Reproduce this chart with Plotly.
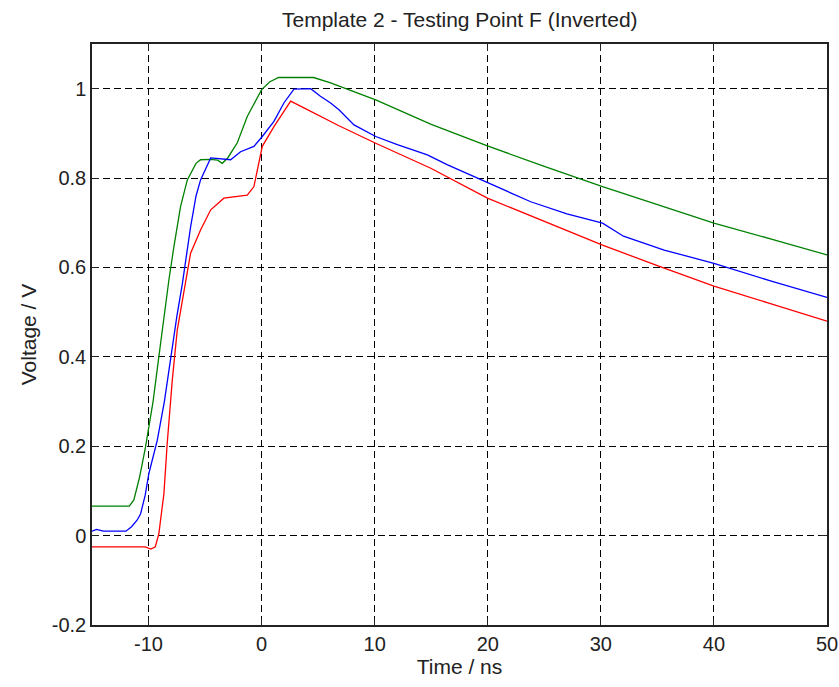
import plotly.graph_objects as go

# Data
green_x = [-15, -11.7, -11.3, -10.8, -10.27, -9.6, -9.09, -8.6, -8.2, -7.76, -7.17, -6.57, -6.28, -5.8, -5.4,
           -4.5, -3.9, -3.48, -3.0, -2.15, -1.27, -0.5, 0, 0.7, 1.5, 4.6, 6.1, 10.09, 15, 19.97, 25, 30.15,
           35, 40, 45, 50]
green_y = [0.066, 0.066, 0.08, 0.13, 0.198, 0.30, 0.40, 0.50, 0.572, 0.646, 0.736, 0.796, 0.811, 0.833, 0.841,
           0.842, 0.84, 0.833, 0.845, 0.879, 0.938, 0.975, 0.998, 1.015, 1.025, 1.025, 1.013, 0.975, 0.92, 0.872,
           0.826, 0.781, 0.74, 0.699, 0.664, 0.628]

blue_x = [-15, -14.6, -14, -12, -11.5, -11.0, -10.7, -10.3, -9.97, -9.23, -8.6, -8.05, -7.5, -7.0, -6.28, -5.8,
          -5.4, -4.5, -2.74, -1.86, -0.68, 0.06, 1.09, 1.97, 2.86, 4.34, 5.2, 6.1, 6.84, 8.17, 10.09, 12, 14.66,
          16.4, 19.97, 23.8, 27, 30.15, 32, 35.6, 40, 45, 50]
blue_y = [0.01, 0.014, 0.01, 0.01, 0.02, 0.035, 0.049, 0.09, 0.139, 0.213, 0.30, 0.40, 0.49, 0.565, 0.691, 0.76,
          0.796, 0.845, 0.841, 0.859, 0.871, 0.893, 0.927, 0.968, 0.999, 1.0, 0.983, 0.968, 0.953, 0.919, 0.893,
          0.875, 0.852, 0.83, 0.79, 0.747, 0.72, 0.699, 0.67, 0.639, 0.609, 0.57, 0.533]

red_x = [-15, -10.3, -9.8, -9.4, -9.09, -8.64, -8.35, -7.9, -7.46, -6.73, -6.28, -5.4, -4.5, -3.34, -1.27, -0.68,
         -0.38, 0.06, 1.09, 2.57, 3.74, 5.51, 6.84, 10.09, 14.96, 19.97, 25, 30.15, 35, 40, 45, 50]
red_y = [-0.025, -0.025, -0.03, -0.025, 0.004, 0.094, 0.206, 0.348, 0.46, 0.572, 0.632, 0.684, 0.729, 0.755,
         0.762, 0.781, 0.818, 0.871, 0.915, 0.972, 0.957, 0.934, 0.917, 0.878, 0.822, 0.755, 0.703, 0.650, 0.604,
         0.558, 0.519, 0.48]

x_ticks = [-10, 0, 10, 20, 30, 40, 50]
x_labels = ["-10", "0", "10", "20", "30", "40", "50"]
y_ticks = [-0.2, 0, 0.2, 0.4, 0.6, 0.8, 1]
y_labels = ["-0.2", "0", "0.2", "0.4", "0.6", "0.8", "1"]

fig = go.Figure()
for xs, ys, col in [(green_x, green_y, "#008000"), (blue_x, blue_y, "#0000FF"), (red_x, red_y, "#FF0000")]:
    fig.add_trace(go.Scatter(x=xs, y=ys, mode="lines", line=dict(color=col, width=1.3), showlegend=False))

font = "Liberation Sans, Arial, sans-serif"
axis_common = dict(
    showgrid=True, gridcolor="black", gridwidth=1, griddash="7px,4px",
    showline=True, linecolor="#222", linewidth=1.5, mirror="allticks",
    ticks="inside", ticklen=7, tickcolor="#222", zeroline=False, automargin=False,
    ticklabeloverflow="allow",
    tickfont=dict(family=font, size=20, color="#222"),
)
fig.update_layout(
    template="none",
    width=839, height=687,
    margin=dict(l=92, r=12, t=44, b=62),
    paper_bgcolor="white", plot_bgcolor="white",
    title=dict(text="Template 2 - Testing Point F (Inverted)", x=0.548, xanchor="center",
               y=0.972, yanchor="middle", font=dict(family=font, size=21, color="#222")),
    xaxis=dict(range=[-15, 50], tickvals=x_ticks, ticktext=x_labels,
               title=dict(text="Time / ns", font=dict(family=font, size=21, color="#222"), standoff=5),
               **axis_common),
    yaxis=dict(range=[-0.2, 1.1], tickvals=y_ticks, ticktext=y_labels,
               title=dict(text="Voltage / V", font=dict(family=font, size=21, color="#222"), standoff=9),
               **axis_common),
)
fig.write_html("out.html")
